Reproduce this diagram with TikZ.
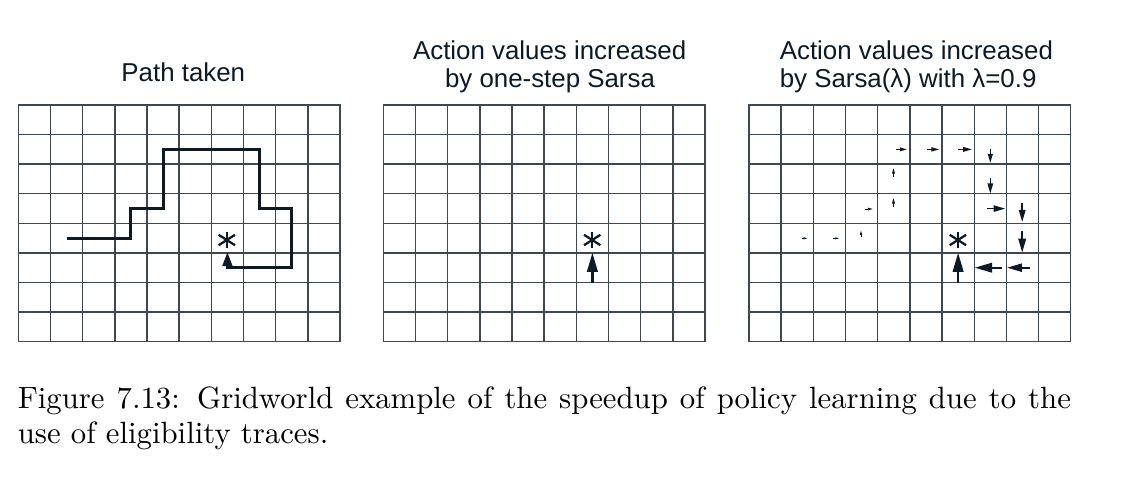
\documentclass[tikz,border=0pt]{standalone}
\usepackage{fontspec}
\newfontfamily\titlefont{Liberation Sans}
\usepackage{graphicx}

\definecolor{gridgray}{RGB}{62,72,80}
\definecolor{pathnavy}{RGB}{12,26,38}

\tikzset{every picture/.style={line width=0.75pt}}
\tikzset{
  gridline/.style={color=gridgray, line width=1.05pt, line cap=rect},
  pathline/.style={color=pathnavy, line width=2.2pt},
  goalstar/.style={color=pathnavy, line width=1.7pt},
  titletext/.style={font=\titlefont\fontsize{19.4}{21}\selectfont, color=pathnavy},
  captext/.style={font=\fontsize{10}{12}\selectfont, scale=2.306},
}

% arrow of the trace: tail x, tail y, tip x, tip y (head grows with length)
\newcommand{\tracearrow}[4]{%
  \pgfmathsetmacro{\tlen}{veclen(#3-#1,#4-#2)}%
  \pgfmathsetmacro{\tux}{(#3-#1)/\tlen}%
  \pgfmathsetmacro{\tuy}{(#4-#2)/\tlen}%
  \pgfmathsetmacro{\thl}{0.64*\tlen}%
  \pgfmathsetmacro{\thw}{0.19*\tlen}%
  \pgfmathsetmacro{\tlw}{max(0.065*\tlen,0.5)}%
  \draw [color=pathnavy, line width=\tlw pt] (#1,#2) -- ({#3-(\thl-0.5)*\tux},{#4-(\thl-0.5)*\tuy}) ;%
  \fill [pathnavy] (#3,#4) -- ({#3-\thl*\tux-\thw*\tuy},{#4-\thl*\tuy+\thw*\tux}) -- ({#3-\thl*\tux+\thw*\tuy},{#4-\thl*\tuy-\thw*\tux}) -- cycle ;%
}

\begin{document}
\begin{tikzpicture}[x=0.75pt,y=0.75pt,yscale=-1,xscale=1]
\useasboundingbox (0,0) rectangle (1137,482);

%Shape: Grid (three boards, 10 x 8 cells)
\foreach \gx in {18.3,383.3,749}{
  \foreach \i in {0,...,10}
    \draw [gridline] ({\gx+\i*32.17},105) -- ({\gx+\i*32.17},341.7) ;
  \foreach \j in {0,...,8}
    \draw [gridline] (\gx,{105+\j*29.59}) -- ({\gx+321.7},{105+\j*29.59}) ;
}

%Straight Lines: path taken
\draw [pathline] (66.6,238.2) -- (130.9,238.2) -- (130.9,208.6) -- (163.1,208.6) -- (163.1,149.4) -- (259.6,149.4) -- (259.6,208.6) -- (291.8,208.6) -- (291.8,267.7) -- (227.4,267.7) -- (227.4,264) ;
\fill [pathnavy] (227.4,252.5) -- (222.2,266) -- (232.6,266) -- cycle ;

%Shape: Goal stars
\foreach \sx in {226.8,592.2,957.9}{
  \draw [goalstar] (\sx,232.3) -- (\sx,247.7) ;
  \draw [goalstar] ({\sx-8.2},234.8) -- ({\sx+8.2},245.2) ;
  \draw [goalstar] ({\sx-8.2},245.2) -- ({\sx+8.2},234.8) ;
}

%Straight Lines: one-step Sarsa
\tracearrow{592.4}{282.5}{592.4}{253.0}

%Straight Lines: Sarsa(lambda) traces
\foreach \xa/\ya/\xb/\yb in {958.1/282.5/958.1/253.0, 1001.7/267.7/975.0/267.7,
    1030.0/267.7/1007.3/267.7, 1022.2/231.1/1022.2/252.3, 1022.2/203.3/1022.2/221.7,
    987.3/208.6/1005.0/208.6, 990.3/177.7/990.3/193.3, 990.3/149.0/990.3/162.7,
    958.3/149.4/971.7/149.4, 927.0/149.4/939.0/149.4, 896.0/149.4/906.7/149.4,
    893.5/176.7/893.5/168.3, 893.5/206.7/893.5/198.3, 865.0/209.0/872.7/209.0,
    861.0/237.3/861.0/230.7, 833.3/238.3/839.0/238.3, 801.7/238.3/807.3/238.3}
  \tracearrow{\xa}{\ya}{\xb}{\yb} ;

% Text Node
\draw (183.3,81.7) node [titletext, anchor=base][inner sep=0pt] (pathTitle) {Path taken};
% Text Node
\draw (549.7,59.3) node [titletext, anchor=base][inner sep=0pt] (sarsaTitleA) {Action values increased};
% Text Node
\draw (550,87.3) node [titletext, anchor=base][inner sep=0pt] (sarsaTitleB) {by one-step Sarsa};
% Text Node
\draw (779.3,59.3) node [titletext, anchor=base west][inner sep=0pt] (lambdaTitleA) {Action values increased};
% Text Node
\draw (779.3,87.3) node [titletext, anchor=base west][inner sep=0pt] (lambdaTitleB) {by Sarsa(λ) with λ=0.9};

% Text Node
\draw (16.7,408.3) node [captext, anchor=base west][inner sep=0pt] (captionA) {\makebox[342.5pt][s]{Figure 7.13: Gridworld example of the speedup of policy learning due to the}};
% Text Node
\draw (16.7,443.3) node [captext, anchor=base west][inner sep=0pt] (captionB) {use of eligibility traces.};

\end{tikzpicture}
\end{document}
